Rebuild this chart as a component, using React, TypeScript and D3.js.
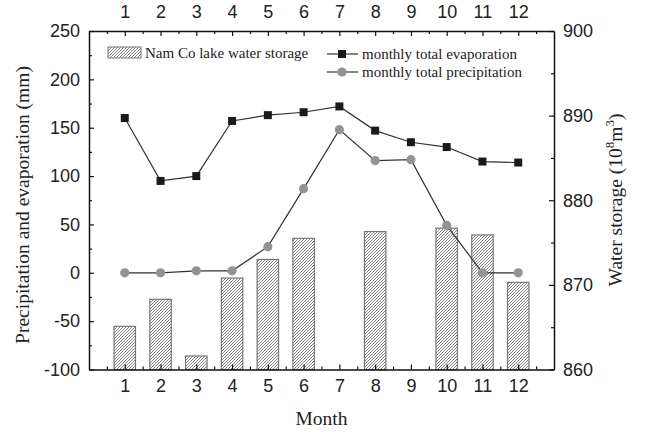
import React, { useEffect, useRef } from 'react';
import * as d3 from 'd3';

const months = [1, 2, 3, 4, 5, 6, 7, 8, 9, 10, 11, 12];
const evaporation = [160, 95, 100, 157, 163, 166, 172, 147, 135, 130, 115, 114];
const precipitation = [0, 0, 2, 2, 27, 87, 148, 116, 117, 49, 0, 0];
const storageMonths = [1, 2, 3, 4, 5, 6, 8, 10, 11, 12];
const storage = [865.1, 868.3, 861.6, 870.8, 873.0, 875.5, 876.3, 876.7, 875.9, 870.3];
const leftTicks = [-100, -50, 0, 50, 100, 150, 200, 250];
const rightTicks = [860, 870, 880, 890, 900];

const App = () => {
  const svgRef = useRef<SVGSVGElement>(null);

  useEffect(() => {
    const svg = d3.select(svgRef.current);
    svg.selectAll('*').remove();
    const margin = { top: 31, right: 92, bottom: 62.5, left: 89 };
    const width = 646;
    const height = 432;
    const innerWidth = width - margin.left - margin.right;
    const innerHeight = height - margin.top - margin.bottom;

    const x = d3.scaleLinear().domain([0, 13]).range([0, innerWidth]);
    const yLeft = d3.scaleLinear().domain([-100, 250]).range([innerHeight, 0]);
    const yRight = d3.scaleLinear().domain([860, 900]).range([innerHeight, 0]);

    const defs = svg.append('defs');
    const pat = defs.append('pattern')
      .attr('id', 'hatch')
      .attr('patternUnits', 'userSpaceOnUse')
      .attr('width', 3)
      .attr('height', 3);
    pat.append('rect').attr('width', 3).attr('height', 3).attr('fill', 'white');
    pat.append('path')
      .attr('d', 'M-1,1 l2,-2 M0,3 l3,-3 M2,4 l2,-2')
      .attr('stroke', '#666')
      .attr('stroke-width', 0.8);

    const g = svg.append('g')
      .attr('transform', `translate(${margin.left},${margin.top})`);

    // bars (water storage, right axis)
    const barW = x(0.6) - x(0);
    g.selectAll('.bar')
      .data(storage)
      .enter().append('rect')
      .attr('x', (d, i) => x(storageMonths[i]) - barW / 2)
      .attr('y', d => yRight(d))
      .attr('width', barW)
      .attr('height', d => yRight(860) - yRight(d))
      .attr('fill', 'url(#hatch)')
      .attr('stroke', '#777')
      .attr('stroke-width', 1.2);

    const line = d3.line<number>()
      .x((d, i) => x(months[i]))
      .y(d => yLeft(d));

    g.append('path')
      .attr('d', line(precipitation))
      .attr('fill', 'none')
      .attr('stroke', '#333')
      .attr('stroke-width', 1.2);
    g.selectAll('.pdot')
      .data(precipitation)
      .enter().append('circle')
      .attr('cx', (d, i) => x(months[i]))
      .attr('cy', d => yLeft(d))
      .attr('r', 4.6)
      .attr('fill', '#939393');

    g.append('path')
      .attr('d', line(evaporation))
      .attr('fill', 'none')
      .attr('stroke', '#333')
      .attr('stroke-width', 1.2);
    g.selectAll('.edot')
      .data(evaporation)
      .enter().append('rect')
      .attr('x', (d, i) => x(months[i]) - 4)
      .attr('y', d => yLeft(d) - 4)
      .attr('width', 8)
      .attr('height', 8)
      .attr('fill', '#1a1a1a');

    // axes
    const halfMonths = d3.range(0.5, 13, 1);
    const minorLeft = d3.range(-75, 250, 50);
    const minorRight = d3.range(865, 900, 10);
    const plain = (d: any) => String(d);

    const styleAxis = (sel: any) => {
      sel.selectAll('path').attr('stroke', '#111').attr('stroke-width', 1.5);
      sel.selectAll('line').attr('stroke', '#111').attr('stroke-width', 1.2);
      sel.selectAll('text')
        .attr('fill', '#222')
        .style('font-family', '"Liberation Sans", Arial, sans-serif')
        .style('font-size', '18px');
    };

    const addAxis = (axis: any, minor: any, transform: string) => {
      const a = g.append('g').attr('transform', transform).call(axis);
      styleAxis(a);
      const m = g.append('g').attr('transform', transform).call(minor);
      m.select('path').remove();
      m.selectAll('line').attr('stroke', '#111').attr('stroke-width', 1.2);
    };

    addAxis(
      d3.axisBottom(x).tickValues(months).tickSizeInner(-5).tickSizeOuter(0).tickPadding(10).tickFormat(plain),
      d3.axisBottom(x).tickValues(halfMonths).tickSizeInner(-3).tickSizeOuter(0).tickFormat(() => ''),
      `translate(0,${innerHeight})`
    );
    addAxis(
      d3.axisTop(x).tickValues(months).tickSizeInner(-5).tickSizeOuter(0).tickPadding(13).tickFormat(plain),
      d3.axisTop(x).tickValues(halfMonths).tickSizeInner(-3).tickSizeOuter(0).tickFormat(() => ''),
      'translate(0,0)'
    );
    addAxis(
      d3.axisLeft(yLeft).tickValues(leftTicks).tickSizeInner(-5).tickSizeOuter(0).tickPadding(9).tickFormat(plain),
      d3.axisLeft(yLeft).tickValues(minorLeft).tickSizeInner(-3).tickSizeOuter(0).tickFormat(() => ''),
      'translate(0,0)'
    );
    addAxis(
      d3.axisRight(yRight).tickValues(rightTicks).tickSizeInner(-5).tickSizeOuter(0).tickPadding(9).tickFormat(plain),
      d3.axisRight(yRight).tickValues(minorRight).tickSizeInner(-3).tickSizeOuter(0).tickFormat(() => ''),
      `translate(${innerWidth},0)`
    );

    const serif = '"Liberation Serif", "Times New Roman", serif';

    // axis titles
    svg.append('text')
      .attr('x', margin.left + innerWidth / 2)
      .attr('y', 425)
      .attr('text-anchor', 'middle')
      .style('font-family', serif)
      .style('font-size', '19.5px')
      .attr('fill', '#222')
      .text('Month');

    svg.append('text')
      .attr('transform', 'translate(29,205) rotate(-90)')
      .attr('text-anchor', 'middle')
      .style('font-family', serif)
      .style('font-size', '19.5px')
      .attr('fill', '#222')
      .text('Precipitation and evaporation (mm)');

    const rt = svg.append('text')
      .attr('transform', 'translate(622,200) rotate(-90)')
      .attr('text-anchor', 'middle')
      .style('font-family', serif)
      .style('font-size', '19.5px')
      .attr('fill', '#222');
    rt.append('tspan').text('Water storage (10');
    rt.append('tspan').attr('dy', -8).style('font-size', '13px').text('8');
    rt.append('tspan').attr('dy', 8).text('m');
    rt.append('tspan').attr('dy', -8).style('font-size', '13px').text('3');
    rt.append('tspan').attr('dy', 8).text(')');

    // legend
    const leg = svg.append('g');
    leg.append('rect')
      .attr('x', 108).attr('y', 47).attr('width', 33).attr('height', 11)
      .attr('fill', 'url(#hatch)').attr('stroke', '#777').attr('stroke-width', 1);
    leg.append('text')
      .attr('x', 145).attr('y', 57.5)
      .style('font-family', serif).style('font-size', '15px').attr('fill', '#222')
      .text('Nam Co lake water storage');

    leg.append('line').attr('x1', 327).attr('x2', 358).attr('y1', 54).attr('y2', 54)
      .attr('stroke', '#333').attr('stroke-width', 1.2);
    leg.append('rect').attr('x', 338).attr('y', 50).attr('width', 8).attr('height', 8).attr('fill', '#1a1a1a');
    leg.append('text')
      .attr('x', 362).attr('y', 59)
      .style('font-family', serif).style('font-size', '15px').attr('fill', '#222')
      .text('monthly total evaporation');

    leg.append('line').attr('x1', 327).attr('x2', 358).attr('y1', 72).attr('y2', 72)
      .attr('stroke', '#333').attr('stroke-width', 1.2);
    leg.append('circle').attr('cx', 342).attr('cy', 72).attr('r', 4.6).attr('fill', '#939393');
    leg.append('text')
      .attr('x', 362).attr('y', 77)
      .style('font-family', serif).style('font-size', '15px').attr('fill', '#222')
      .text('monthly total precipitation');
  }, []);

  return (
    <svg
      ref={svgRef}
      width={646}
      height={432}
      style={{ position: 'absolute', left: 0, top: 0, background: 'white' }}
    />
  );
};

export default App;
